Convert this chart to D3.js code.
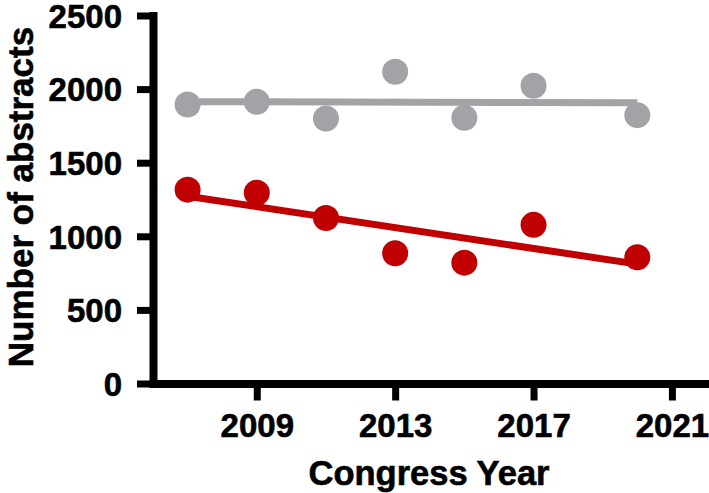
<!DOCTYPE html>
<html>
<head>
<meta charset="utf-8">
<script src="https://cdn.jsdelivr.net/npm/d3@7"></script>
<style>
	body { margin: 0; background: #fff; }
	text { font-family: "Liberation Sans", Arial, sans-serif; font-weight: bold; fill: #000; }
</style>
</head>
<body>
<div id="chart"></div>
<script>
// ********** ABSTRACTS PER CONGRESS YEAR **********

// Data
const years = [2007, 2009, 2011, 2013, 2015, 2017, 2020];
const totalAbstracts = [1895, 1914, 1800, 2118, 1805, 2023, 1823];
const subsetAbstracts = [1317, 1296, 1124, 885, 821, 1078, 858];
const xTicks = [2009, 2013, 2017, 2021];
const yTicks = [0, 500, 1000, 1500, 2000, 2500];

const width = 709,
	  height = 493;

const colors = ['#a3a3a7', '#c00000'];

const svg = d3.select('#chart')
	.append('svg')
	.attr('width', width)
	.attr('height', height);

const x = d3.scaleLinear()
	.domain([2006, 2022])
	.range([153, 706.5]);

const y = d3.scaleLinear()
	.domain([0, 2500])
	.range([383.5, 15.5]);

// Least squares fit for the trend lines
const fit = (xs, ys) => {
	const mx = d3.mean(xs), my = d3.mean(ys);
	let sxy = 0, sxx = 0;
	xs.forEach((v, i) => {
		sxy += (v - mx) * (ys[i] - my);
		sxx += (v - mx) * (v - mx);
	});
	const slope = sxy / sxx;
	return v => my + slope * (v - mx);
};

const series = [totalAbstracts, subsetAbstracts];

// Trend lines
series.forEach((vals, s) => {
	const f = fit(years, vals);
	const ends = d3.extent(years);
	svg.append('line')
		.attr('x1', x(ends[0]))
		.attr('y1', y(f(ends[0])))
		.attr('x2', x(ends[1]))
		.attr('y2', y(f(ends[1])))
		.attr('stroke', colors[s])
		.attr('stroke-width', 7);
});

// Points
series.forEach((vals, s) => {
	svg.append('g')
		.selectAll('circle')
		.data(vals)
		.enter()
		.append('circle')
		.attr('cx', (d, i) => x(years[i]))
		.attr('cy', d => y(d))
		.attr('r', 13)
		.attr('fill', colors[s]);
});

// Axes
const xAxis = svg.append('g')
	.attr('transform', `translate(0, ${y(0)})`)
	.call(d3.axisBottom(x).tickValues(xTicks).tickFormat(d3.format('d'))
		.tickSize(17).tickSizeOuter(0).tickPadding(13));

const yAxis = svg.append('g')
	.attr('transform', `translate(${x(2006)}, 0)`)
	.call(d3.axisLeft(y).tickValues(yTicks).tickFormat(d3.format('d'))
		.tickSize(16).tickSizeOuter(0).tickPadding(15));

[xAxis, yAxis].forEach(g => {
	g.select('.domain')
		.attr('stroke', '#000')
		.attr('stroke-width', 8)
		.attr('stroke-linecap', 'square');
	g.selectAll('.tick line')
		.attr('stroke', '#000')
		.attr('stroke-width', 7);
	g.selectAll('.tick text')
		.attr('font-size', 33)
		.attr('font-family', '"Liberation Sans", Arial, sans-serif')
		.attr('font-weight', 'bold')
		.attr('fill', '#000')
		.attr('stroke', '#000')
		.attr('stroke-width', 0.6);
});

yAxis.selectAll('.tick text').attr('dy', '0.36em');

// Axis titles
svg.append('text')
	.attr('x', 429)
	.attr('y', 485)
	.attr('text-anchor', 'middle')
	.attr('font-size', 34.5)
	.attr('stroke', '#000')
	.attr('stroke-width', 0.6)
	.text('Congress Year');

svg.append('text')
	.attr('transform', `translate(33, 197) rotate(-90)`)
	.attr('text-anchor', 'middle')
	.attr('font-size', 35)
	.attr('stroke', '#000')
	.attr('stroke-width', 0.6)
	.text('Number of abstracts');
</script>
</body>
</html>
